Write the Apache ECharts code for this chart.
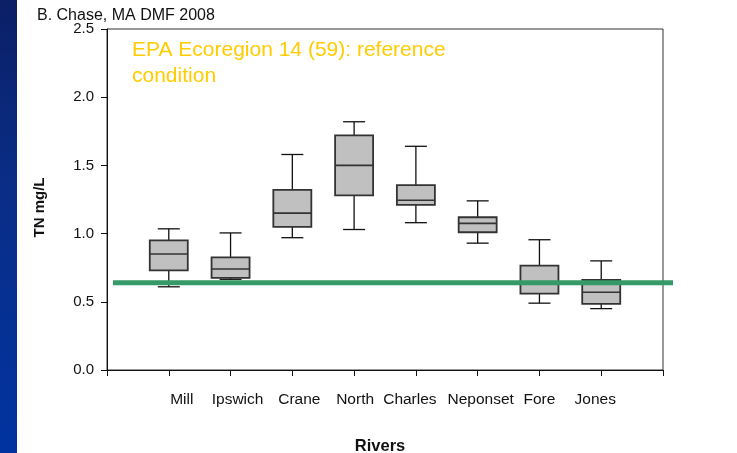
<!DOCTYPE html>
<html>
<head>
<meta charset="utf-8">
<script src="https://cdn.jsdelivr.net/npm/echarts@6/dist/echarts.min.js"></script>
<style>
  html, body { margin: 0; padding: 0; background: #fff; }
  #strip { position: absolute; left: 0; top: 0; width: 17px; height: 453px;
    background: linear-gradient(to bottom, #0b1f66 0%, #0a2d86 40%, #0033a0 100%); }
  #chart { position: absolute; left: 0; top: 0; width: 737px; height: 453px; }
</style>
</head>
<body>
<div id="strip"></div>
<div id="chart"></div>
<script>
// ---- data ----
const rivers = ['Mill', 'Ipswich', 'Crane', 'North', 'Charles', 'Neponset', 'Fore', 'Jones'];
const whiskerLow  = [0.61, 0.665, 0.97, 1.03, 1.08, 0.93, 0.49, 0.45];
const quart1      = [0.73, 0.675, 1.05, 1.28, 1.21, 1.01, 0.56, 0.485];
const medians     = [0.85, 0.74, 1.15, 1.50, 1.245, 1.075, 0.645, 0.57];
const quart3      = [0.95, 0.825, 1.32, 1.72, 1.355, 1.12, 0.765, 0.66];
const whiskerHigh = [1.035, 1.005, 1.58, 1.82, 1.64, 1.24, 0.955, 0.80];
const referenceTN = 0.64;
const yTicks = [0, 0.5, 1.0, 1.5, 2.0, 2.5];

// label nudges (style only, px) to mimic the hand-placed category labels
const labelNudge = [13, 7, 7, 1, -6, 3, 0, -6];

// categories padded with an empty slot on each side
const cats = [''].concat(rivers, ['']);
const boxData = rivers.map((r, i) =>
  [i + 1, whiskerLow[i], quart1[i], medians[i], quart3[i], whiskerHigh[i]]);

const FONT = 'Liberation Sans, Arial, sans-serif';
const BOX_W = 38, CAP_W = 22;

const rich = {};
labelNudge.forEach((n, i) => {
  rich['l' + i] = { fontFamily: FONT, fontSize: 15.5, color: '#111',
    padding: n >= 0 ? [0, 0, 0, 2 * n] : [0, -2 * n, 0, 0] };
});

function renderBox(params, api) {
  const x = api.value(0);
  const pLo = api.coord([x, api.value(1)]);
  const pQ1 = api.coord([x, api.value(2)]);
  const pMd = api.coord([x, api.value(3)]);
  const pQ3 = api.coord([x, api.value(4)]);
  const pHi = api.coord([x, api.value(5)]);
  const cx = pMd[0];
  const wStyle = { stroke: '#111', lineWidth: 1.3 };
  return {
    type: 'group',
    children: [
      { type: 'line', shape: { x1: cx, y1: pHi[1], x2: cx, y2: pQ3[1] }, style: wStyle },
      { type: 'line', shape: { x1: cx, y1: pQ1[1], x2: cx, y2: pLo[1] }, style: wStyle },
      { type: 'line', shape: { x1: cx - CAP_W / 2, y1: pHi[1], x2: cx + CAP_W / 2, y2: pHi[1] }, style: wStyle },
      { type: 'line', shape: { x1: cx - CAP_W / 2, y1: pLo[1], x2: cx + CAP_W / 2, y2: pLo[1] }, style: wStyle },
      { type: 'rect', shape: { x: cx - BOX_W / 2, y: pQ3[1], width: BOX_W, height: pQ1[1] - pQ3[1] },
        style: { fill: '#C0C0C0', stroke: '#333', lineWidth: 1.8 } },
      { type: 'line', shape: { x1: cx - BOX_W / 2, y1: pMd[1], x2: cx + BOX_W / 2, y2: pMd[1] },
        style: { stroke: '#333', lineWidth: 1.6 } }
    ]
  };
}

const chart = echarts.init(document.getElementById('chart'), null, { renderer: 'canvas' });
chart.setOption({
  backgroundColor: 'transparent',
  animation: false,
  title: [{
    text: 'B. Chase, MA DMF 2008',
    left: 37, top: 8, padding: 0,
    textStyle: { fontFamily: FONT, fontSize: 16, fontWeight: 'normal', color: '#111' }
  }, {
    text: 'EPA Ecoregion 14 (59): reference\ncondition',
    left: 132, top: 37, padding: 0,
    textStyle: { fontFamily: FONT, fontSize: 21, fontWeight: 'normal', color: '#FFCC00', lineHeight: 26 }
  }],
  grid: [
    { left: 107, right: 74, top: 29, bottom: 83, outerBoundsMode: 'none', containLabel: false,
      show: true, borderColor: '#333', borderWidth: 1, backgroundColor: 'transparent' },
    { left: 113, right: 64, top: 29, bottom: 83, outerBoundsMode: 'none', containLabel: false }
  ],
  xAxis: [{
    type: 'category', gridIndex: 0, data: cats, boundaryGap: false,
    name: 'Rivers', nameLocation: 'middle', nameGap: 68,
    nameTextStyle: { fontFamily: FONT, fontSize: 16.5, fontWeight: 'bold', color: '#111', padding: [0, 10, 0, 0] },
    axisLine: { lineStyle: { color: '#111', width: 1 } },
    axisTick: { show: true, interval: 0, length: 6, lineStyle: { color: '#111' } },
    axisLabel: { interval: 0, margin: 22, fontFamily: FONT, fontSize: 15.5, color: '#111',
      formatter: (v, idx) => v === '' ? '' : '{l' + (idx - 1) + '|' + v + '}', rich: rich },
    splitLine: { show: false }
  }, {
    type: 'value', gridIndex: 1, min: 0, max: 1, show: false
  }],
  yAxis: [{
    type: 'value', gridIndex: 0, min: yTicks[0], max: yTicks[yTicks.length - 1], interval: 0.5,
    name: 'TN mg/L', nameLocation: 'middle', nameRotate: 90, nameGap: 60,
    nameTextStyle: { fontFamily: FONT, fontSize: 15, fontWeight: 'bold', color: '#111', padding: [0, 16, 0, 0] },
    axisLine: { show: true, lineStyle: { color: '#111', width: 1 } },
    axisTick: { show: true, length: 6, lineStyle: { color: '#111' } },
    axisLabel: { margin: 13, fontFamily: FONT, fontSize: 15, color: '#111',
      formatter: v => v.toFixed(1) },
    splitLine: { show: false }
  }, {
    type: 'value', gridIndex: 1, min: 0, max: 2.5, show: false
  }],
  series: [{
    type: 'custom',
    xAxisIndex: 0, yAxisIndex: 0,
    data: boxData,
    encode: { x: 0, y: [1, 2, 3, 4, 5] },
    renderItem: renderBox,
    z: 2
  }, {
    type: 'line',
    xAxisIndex: 1, yAxisIndex: 1,
    data: [[0, referenceTN], [1, referenceTN]],
    symbol: 'none',
    lineStyle: { color: '#359a68', width: 5 },
    z: 5, silent: true
  }]
});
</script>
</body>
</html>
